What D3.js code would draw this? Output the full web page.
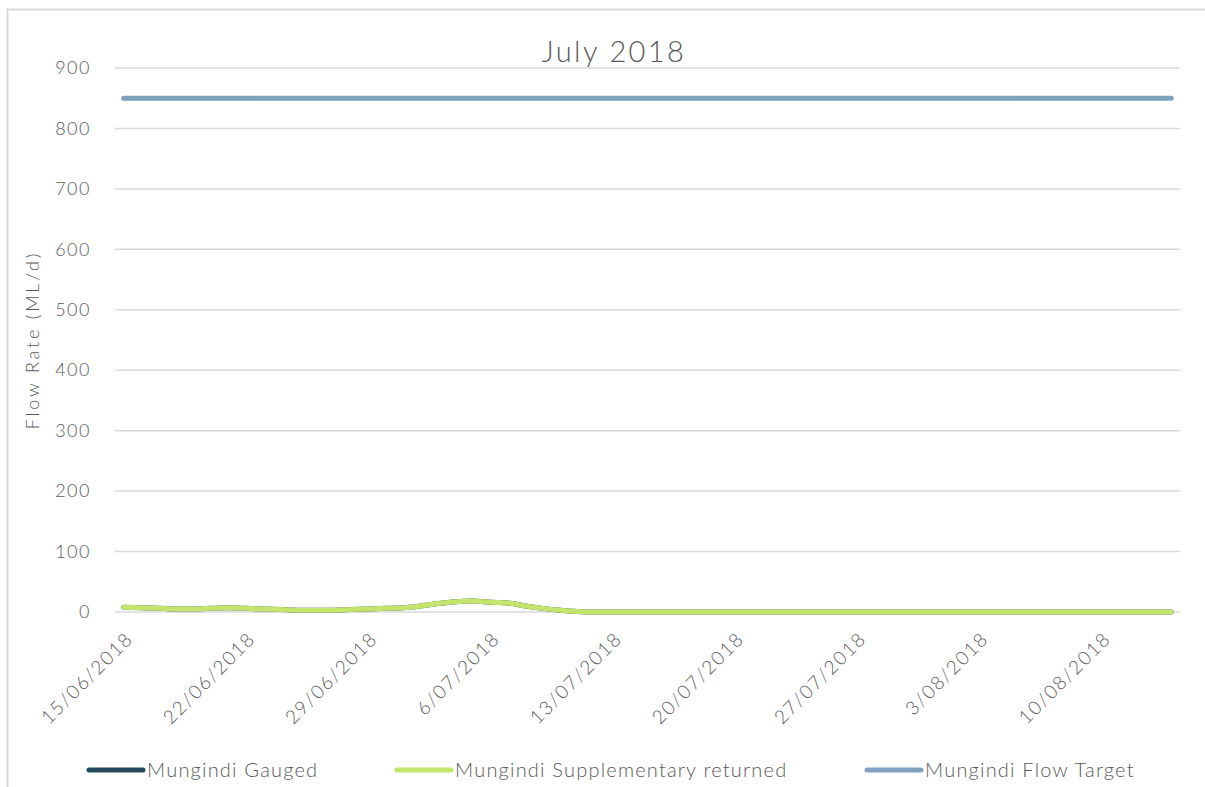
<!DOCTYPE html>
<html>
<head>
<meta charset="utf-8">
<script src="https://cdn.jsdelivr.net/npm/d3@7"></script>
<style>
  html, body { margin: 0; padding: 0; background: #fff; }
  svg { display: block; font-family: "Lato", "Open Sans", sans-serif; }
</style>
</head>
<body>
<svg id="chart" width="1205" height="787"></svg>
<script>
// Daily series, 15 June 2018 to 14 August 2018 (61 days)
const startDate = "2018-06-15";
const gauged = [
  8, 7, 6, 5, 5, 6, 7, 6, 5, 4,
  3, 3, 3, 4, 5, 6, 7, 10, 14, 17,
  18, 16, 15, 10, 6, 3, 1, 0, 0, 0,
  0, 0, 0, 0, 0, 0, 0, 0, 0, 0,
  0, 0, 0, 0, 0, 0, 0, 0, 0, 0,
  0, 0, 0, 0, 0, 0, 0, 0, 0, 0,
  0];
const supplementary = [
  8, 7, 6, 5, 5, 6, 7, 6, 5, 4,
  3, 3, 3, 4, 5, 6, 7, 10, 14, 17,
  18, 16, 15, 10, 6, 3, 1, 0, 0, 0,
  0, 0, 0, 0, 0, 0, 0, 0, 0, 0,
  0, 0, 0, 0, 0, 0, 0, 0, 0, 0,
  0, 0, 0, 0, 0, 0, 0, 0, 0, 0,
  0];
const flowTarget = [
  850, 850, 850, 850, 850, 850, 850, 850, 850, 850,
  850, 850, 850, 850, 850, 850, 850, 850, 850, 850,
  850, 850, 850, 850, 850, 850, 850, 850, 850, 850,
  850, 850, 850, 850, 850, 850, 850, 850, 850, 850,
  850, 850, 850, 850, 850, 850, 850, 850, 850, 850,
  850, 850, 850, 850, 850, 850, 850, 850, 850, 850,
  850];
const yTicks = [0, 100, 200, 300, 400, 500, 600, 700, 800, 900];
const xTickLabels = ["15/06/2018", "22/06/2018", "29/06/2018", "6/07/2018", "13/07/2018",
  "20/07/2018", "27/07/2018", "3/08/2018", "10/08/2018"];
const seriesNames = ["Mungindi Gauged", "Mungindi Supplementary returned", "Mungindi Flow Target"];
const seriesColors = ["#244B5E", "#C3E56C", "#7EA2C0"];

const svg = d3.select("#chart");
const DAY = 86400000;
const t0 = new Date(startDate + "T12:00:00");
const dates = gauged.map((_, i) => new Date(t0.getTime() + i * DAY));

const plot = { left: 115, right: 1180, top: 68, bottom: 612 };
const textColor = "#595959";

// chart frame
svg.append("rect")
  .attr("x", 7.5).attr("y", 9.5).attr("width", 1220).attr("height", 800)
  .attr("fill", "#fff").attr("stroke", "#d9d9d9").attr("stroke-width", 2);

const x = d3.scaleTime()
  .domain([new Date(dates[0].getTime() - DAY / 2), new Date(dates[dates.length - 1].getTime() + DAY / 2)])
  .range([plot.left, plot.right]);
const y = d3.scaleLinear().domain([0, 900]).range([plot.bottom, plot.top]);

// horizontal gridlines
svg.append("g").selectAll("line").data(yTicks).join("line")
  .attr("x1", plot.left).attr("x2", plot.right)
  .attr("y1", d => y(d)).attr("y2", d => y(d))
  .attr("stroke", "#d9d9d9").attr("stroke-width", 1.5);

// y axis labels
const yAxis = d3.axisLeft(y).tickValues(yTicks).tickSize(0).tickPadding(0);
const gy = svg.append("g").attr("transform", `translate(${plot.left - 24},0)`).call(yAxis);
gy.select(".domain").remove();
gy.selectAll("text").attr("font-family", "Lato, sans-serif").attr("font-weight", 300)
  .attr("font-size", 18).attr("letter-spacing", 1.5).attr("fill", textColor);

// x axis labels, weekly
const parseLabel = d3.timeParse("%d/%m/%Y");
const xTicks = xTickLabels.map(s => new Date(parseLabel(s).getTime() + DAY / 2));
const xAxis = d3.axisBottom(x).tickValues(xTicks).tickSize(0)
  .tickFormat((d, i) => xTickLabels[i]);
const gx = svg.append("g").attr("transform", `translate(0,${plot.bottom})`).call(xAxis);
gx.select(".domain").remove();
gx.selectAll("text")
  .attr("font-family", "Lato, sans-serif").attr("font-weight", 300)
  .attr("font-size", 19).attr("letter-spacing", 1.6).attr("fill", textColor)
  .attr("text-anchor", "end").attr("dy", null).attr("y", 0)
  .attr("transform", "translate(10,28) rotate(-45)");

// series lines
const line = d3.line()
  .x((d, i) => x(dates[i]))
  .y(d => y(d))
  .curve(d3.curveMonotoneX);

const seriesData = [gauged, supplementary, flowTarget];
svg.append("g").selectAll("path").data(seriesData).join("path")
  .attr("d", d => line(d))
  .attr("fill", "none")
  .attr("stroke", (d, i) => seriesColors[i])
  .attr("stroke-width", 5)
  .attr("stroke-linecap", "round")
  .attr("stroke-linejoin", "round");

// title
svg.append("text")
  .attr("x", 614).attr("y", 62)
  .attr("text-anchor", "middle")
  .attr("font-family", "Lato, sans-serif").attr("font-weight", 300)
  .attr("font-size", 29).attr("letter-spacing", 2.4).attr("fill", textColor)
  .text("July 2018");

// y axis title
svg.append("text")
  .attr("transform", "translate(39,340) rotate(-90)")
  .attr("text-anchor", "middle")
  .attr("font-family", "Lato, sans-serif").attr("font-weight", 300)
  .attr("font-size", 18).attr("letter-spacing", 2.8).attr("fill", textColor)
  .text("Flow Rate (ML/d)");

// legend
const legendX = [87, 395, 865];
const lg = svg.append("g").selectAll("g").data(seriesNames).join("g")
  .attr("transform", (d, i) => `translate(${legendX[i]},770)`);
lg.append("line")
  .attr("x1", 2).attr("x2", 56).attr("y1", 0).attr("y2", 0)
  .attr("stroke", (d, i) => seriesColors[i]).attr("stroke-width", 5)
  .attr("stroke-linecap", "round");
lg.append("text")
  .attr("x", 60).attr("y", 7)
  .attr("font-family", "Lato, sans-serif").attr("font-weight", 300)
  .attr("font-size", 20).attr("letter-spacing", 1.2).attr("fill", textColor)
  .text(d => d);
</script>
</body>
</html>
